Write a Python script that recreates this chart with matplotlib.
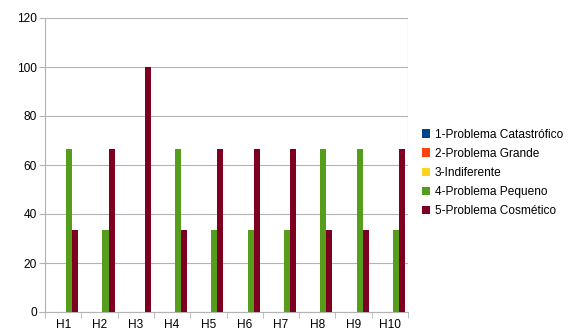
import matplotlib
matplotlib.use('Agg')
import matplotlib.pyplot as plt
from matplotlib.patches import Patch
import numpy as np

plt.rcParams['font.family'] = ['Liberation Sans', 'DejaVu Sans']

# data
categories = ['H1', 'H2', 'H3', 'H4', 'H5', 'H6', 'H7', 'H8', 'H9', 'H10']
series_names = ['1-Problema Catastrófico', '2-Problema Grande', '3-Indiferente',
                '4-Problema Pequeno', '5-Problema Cosmético']
catastrofico = [0, 0, 0, 0, 0, 0, 0, 0, 0, 0]
grande = [0, 0, 0, 0, 0, 0, 0, 0, 0, 0]
indiferente = [0, 0, 0, 0, 0, 0, 0, 0, 0, 0]
pequeno = [66.67, 33.33, 0, 66.67, 33.33, 33.33, 33.33, 66.67, 66.67, 33.33]
cosmetico = [33.33, 66.67, 100, 33.33, 66.67, 66.67, 66.67, 33.33, 33.33, 66.67]
series = [catastrofico, grande, indiferente, pequeno, cosmetico]
colors = ['#004586', '#ff420e', '#ffd320', '#579d1c', '#7e0021']

fig = plt.figure(figsize=(5.73, 3.35), dpi=100)
ax = fig.add_axes([45 / 573, 23 / 335, 363 / 573, 294 / 335])

x = np.arange(len(categories))
w = 1 / 6
for i, (vals, c) in enumerate(zip(series, colors)):
    v = np.array(vals, dtype=float)
    mask = v > 0
    ax.bar(x[mask] + (i - 2) * w, v[mask], width=w, color=c, edgecolor='none', zorder=3)

ax.set_xlim(-0.5, len(categories) - 0.5)
ax.set_ylim(0, 120)
ax.set_yticks(range(0, 121, 20))
ax.set_xticks(x)
ax.set_xticklabels(categories)
ax.set_xticks(np.arange(-0.5, len(categories), 1), minor=True)
ax.tick_params(axis='x', which='major', length=0, labelsize=8.6, pad=5)
ax.tick_params(axis='x', which='minor', length=4, color='#b3b3b3')
ax.tick_params(axis='y', length=4, color='#b3b3b3', labelsize=8.6, pad=2)
ax.yaxis.grid(True, color='#b3b3b3', linewidth=0.8, zorder=0)
for s in ['top', 'right']:
    ax.spines[s].set_visible(False)
for s in ['left', 'bottom']:
    ax.spines[s].set_color('#b3b3b3')
ax.axvline(len(categories) - 0.5, color='#b3b3b3', linewidth=0.8, zorder=1)

handles = [Patch(facecolor=c, edgecolor='none') for c in colors]
fig.legend(handles, series_names, loc='center left', bbox_to_anchor=(422 / 573, 1 - 173 / 335),
           frameon=False, fontsize=8.6, handlelength=0.7, handleheight=0.7,
           handletextpad=0.35, labelspacing=0.6, borderaxespad=0, borderpad=0)

fig.savefig('out.png', dpi=100)
